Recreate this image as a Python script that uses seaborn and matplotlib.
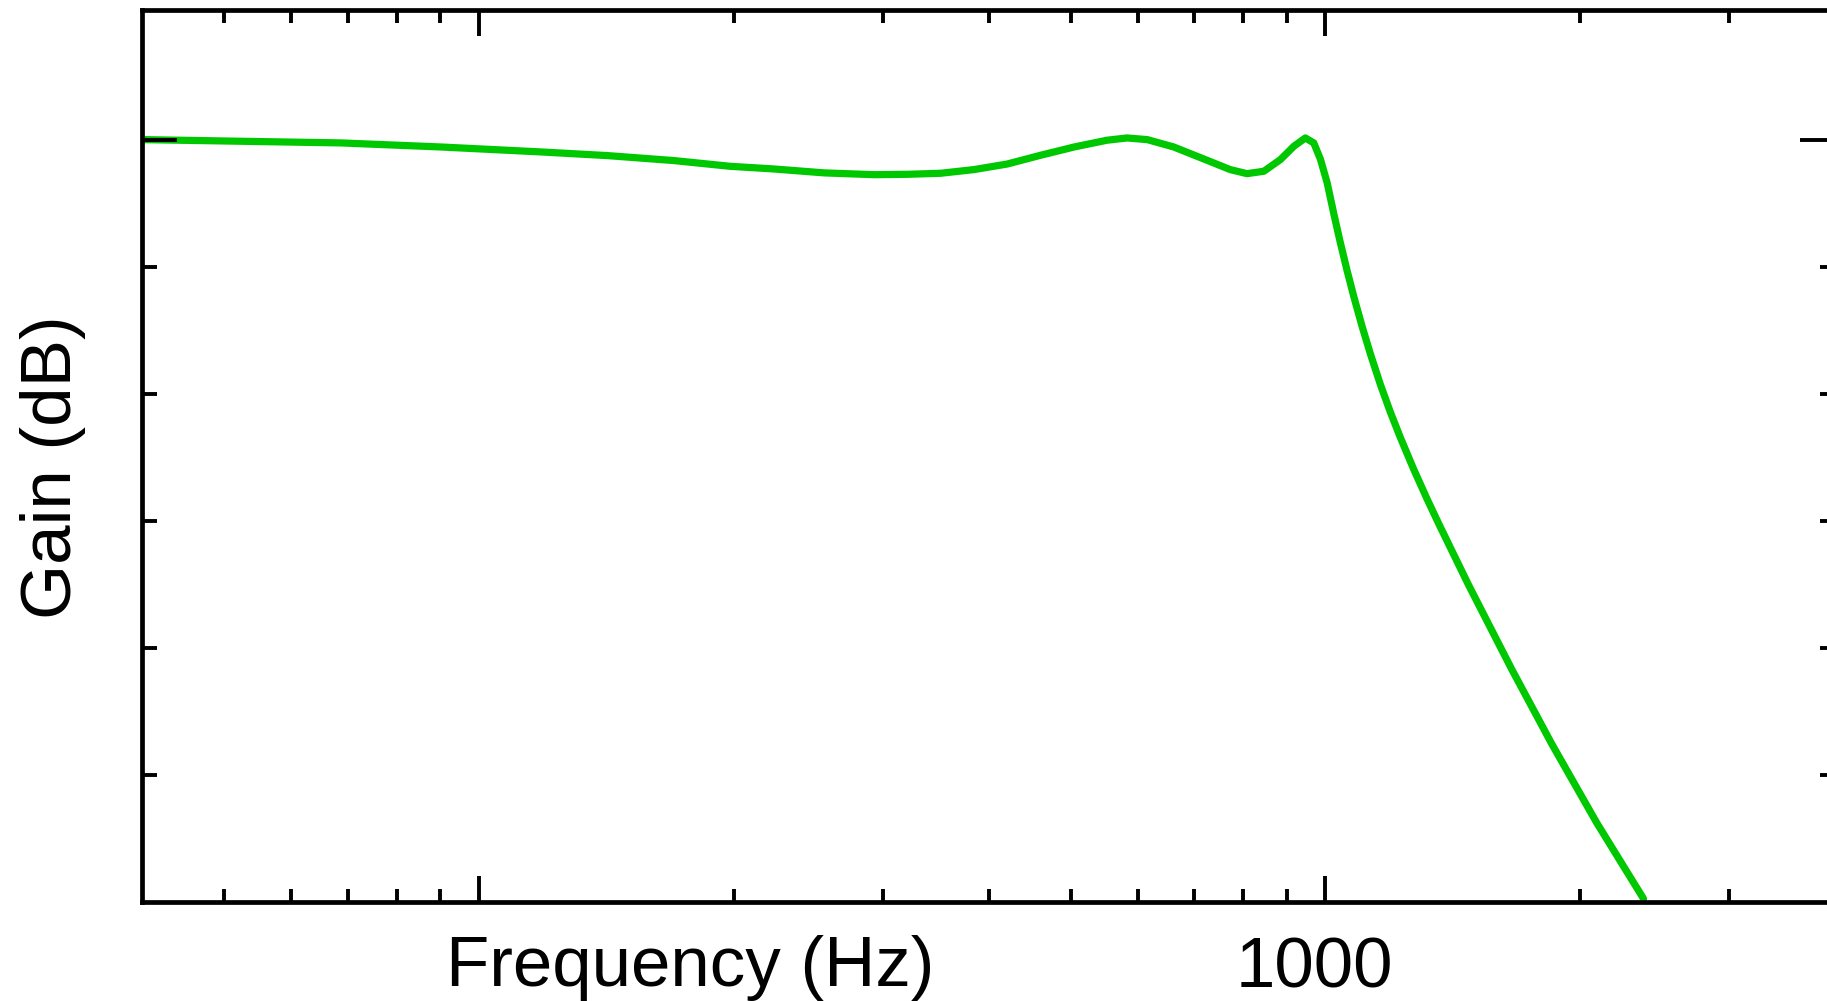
import numpy as np
import pandas as pd
import matplotlib
matplotlib.use("Agg")
import matplotlib.pyplot as plt
import matplotlib.ticker as mticker
import matplotlib.transforms as mtransforms
import seaborn as sns

# ---- data ----
freq_hz = [40, 52.4, 68.7, 90.2, 118.4, 142, 170, 198, 223, 256, 293, 321,
           351, 384.5, 421, 461, 505, 552, 583, 616, 662, 725, 772, 808, 846,
           885, 918, 947, 969, 987, 1005, 1023, 1041, 1061, 1080, 1105, 1130,
           1161, 1193, 1226, 1271, 1318, 1361, 1476, 1661, 1852, 2093, 2376]
gain_db = [0.0, -0.13, -0.26, -0.58, -0.97, -1.26, -1.65, -2.1, -2.31, -2.62,
           -2.76, -2.73, -2.65, -2.36, -1.92, -1.23, -0.58, -0.05, 0.13, 0.0,
           -0.58, -1.63, -2.36, -2.68, -2.49, -1.57, -0.52, 0.13, -0.26, -1.57,
           -3.41, -5.8, -8.04, -10.32, -12.31, -14.69, -16.84, -19.24, -21.42,
           -23.43, -25.91, -28.25, -30.22, -35.04, -41.71, -47.58, -53.79,
           -59.74]
x_major_ticks = [100, 1000]
x_major_labels = ["", "1000"]
x_minor_ticks = [50, 60, 70, 80, 90, 200, 300, 400, 500, 600, 700, 800, 900,
                 2000, 3000]
y_major_ticks = [0]
y_minor_ticks = [-50, -40, -30, -20, -10]
x_label = "Frequency (Hz)"
y_label = "Gain (dB)"

sns.set_style("ticks")
plt.rcParams["font.family"] = ["Liberation Sans", "DejaVu Sans"]
plt.rcParams["text.color"] = "black"
plt.rcParams["axes.labelcolor"] = "black"
plt.rcParams["xtick.color"] = "black"
plt.rcParams["ytick.color"] = "black"

W, H = 1827, 1001
fig = plt.figure(figsize=(W / 100, H / 100), dpi=100)
ax_left, ax_right, ax_top, ax_bottom = 142, 1835, 10, 902
ax = fig.add_axes([ax_left / W, 1 - ax_bottom / H,
                   (ax_right - ax_left) / W, (ax_bottom - ax_top) / H])
ax.set_axisbelow(False)

df = pd.DataFrame({"f": freq_hz, "g": gain_db})
sns.lineplot(data=df, x="f", y="g", ax=ax, color="#00c800", linewidth=5.2,
             estimator=None, sort=False)

ax.set_xscale("log")
ax.set_xlim(40, 4000)
ax.set_ylim(-60, 10.2)

ax.xaxis.set_major_locator(mticker.FixedLocator(x_major_ticks))
ax.xaxis.set_major_formatter(mticker.FixedFormatter(x_major_labels))
ax.xaxis.set_minor_locator(mticker.FixedLocator(x_minor_ticks))
ax.xaxis.set_minor_formatter(mticker.NullFormatter())
ax.yaxis.set_major_locator(mticker.FixedLocator(y_major_ticks))
ax.yaxis.set_major_formatter(mticker.NullFormatter())
ax.yaxis.set_minor_locator(mticker.FixedLocator(y_minor_ticks))
ax.yaxis.set_minor_formatter(mticker.NullFormatter())

for s in ax.spines.values():
    s.set_linewidth(3.4)
    s.set_color("black")
    s.set_zorder(3)

ax.tick_params(axis="x", which="major", direction="in", length=19, width=2.8,
               top=True, bottom=True, labelsize=51, pad=25, color="black",
               labelcolor="black")
ax.tick_params(axis="x", which="minor", direction="in", length=9.5, width=2.8,
               top=True, bottom=True, color="black")
ax.tick_params(axis="y", which="major", direction="in", length=25, width=2.8,
               left=True, right=True, color="black")
ax.tick_params(axis="y", which="minor", direction="in", length=11, width=2.8,
               left=True, right=True, color="black")

ax.set_xlabel(x_label, fontsize=51, color="black")
ax.xaxis.label.set_va("baseline")
ax.xaxis.set_label_coords(0.3237, (ax_bottom - 986) / (ax_bottom - ax_top))
ax.set_ylabel(y_label, fontsize=51, color="black")
ax.yaxis.set_label_coords((86 - ax_left) / (ax_right - ax_left), 0.4877)

shift = mtransforms.ScaledTranslation(-11 / 100, 0, fig.dpi_scale_trans)
for lab in ax.get_xticklabels():
    lab.set_transform(lab.get_transform() + shift)

fig.savefig("out.png", dpi=100)
